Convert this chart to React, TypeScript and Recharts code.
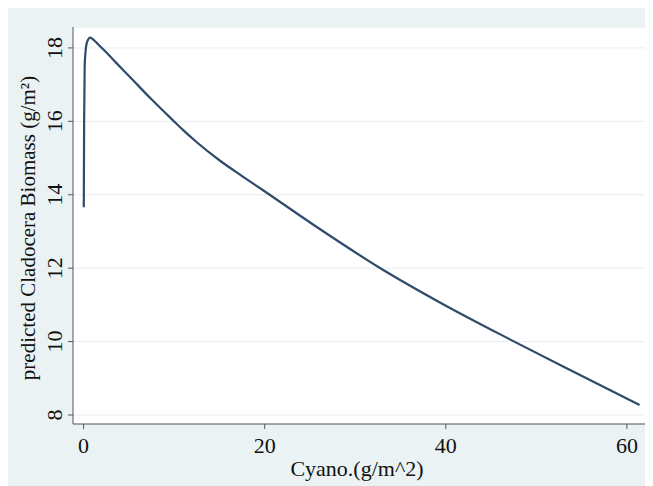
import React from "react";
import { LineChart, Line, XAxis, YAxis, CartesianGrid } from "recharts";

const cyano = [0.02, 0.06, 0.12, 0.2, 0.37, 0.74, 1.1, 1.6, 2.5, 3.5, 5.15, 7.5, 9.9, 11, 12.5, 15, 17.5, 19.9, 26, 32.5, 39.4, 47.4, 54, 61.4];
const biomass = [13.66, 16.0, 17.5, 17.85, 18.15, 18.28, 18.22, 18.1, 17.88, 17.62, 17.2, 16.6, 16.02, 15.76, 15.43, 14.94, 14.51, 14.11, 13.08, 12.04, 11.06, 10.02, 9.19, 8.27];
const xTicks = [0, 20, 40, 60];
const yTicks = [8, 10, 12, 14, 16, 18];

const data = cyano.map((c, i) => ({ cyano: c, biomass: biomass[i] }));

const FONT = '"Liberation Serif", "Times New Roman", serif';
const TEXT = "#111";
const AXIS = "#555";

const YTick = (props: any) => {
  const { x, y, payload } = props;
  const bx = x - 4;
  return (
    <text x={bx} y={y} transform={`rotate(-90, ${bx}, ${y})`} textAnchor="middle" fontFamily={FONT} fontSize={22} fill={TEXT}>
      {payload.value}
    </text>
  );
};

const XTick = (props: any) => {
  const { x, y, payload } = props;
  return (
    <text x={x} y={y + 22} textAnchor="middle" fontFamily={FONT} fontSize={22} fill={TEXT}>
      {payload.value}
    </text>
  );
};

const XTitle = (props: any) => {
  const vb = props.viewBox || {};
  return (
    <text x={vb.x + vb.width / 2 - 4} y={vb.y + 52} textAnchor="middle" fontFamily={FONT} fontSize={22} fill={TEXT}>
      Cyano.(g/m^2)
    </text>
  );
};

const YTitle = () => {
  const cx = 27;
  const cy = 220;
  return (
    <text x={cx} y={cy} transform={`rotate(-90, ${cx}, ${cy})`} textAnchor="middle" fontFamily={FONT} fontSize={21} fill={TEXT}>
      predicted Cladocera Biomass (g/m²)
    </text>
  );
};

export default function App() {
  return (
    <div style={{ width: 645, height: 478, background: "#eaf2f3" }}>
      <LineChart width={645} height={478} data={data} margin={{ top: 19, right: 4, bottom: 0, left: 0 }}>
        <CartesianGrid horizontal={true} vertical={false} fill="#ffffff" stroke="#e6eef0" strokeWidth={1} />
        <XAxis
          dataKey="cyano"
          type="number"
          domain={[-1.17, 62.44]}
          ticks={xTicks}
          allowDataOverflow
          height={62}
          stroke={AXIS}
          tickSize={5}
          tick={<XTick />}
          label={<XTitle />}
        />
        <YAxis
          type="number"
          domain={[7.755, 18.57]}
          ticks={yTicks}
          allowDataOverflow
          width={65}
          stroke={AXIS}
          tickSize={5}
          tick={<YTick />}
          label={<YTitle />}
        />
        <Line dataKey="biomass" type="monotone" stroke="#2f4b6b" strokeWidth={2.2} dot={false} isAnimationActive={false} />
      </LineChart>
    </div>
  );
}
